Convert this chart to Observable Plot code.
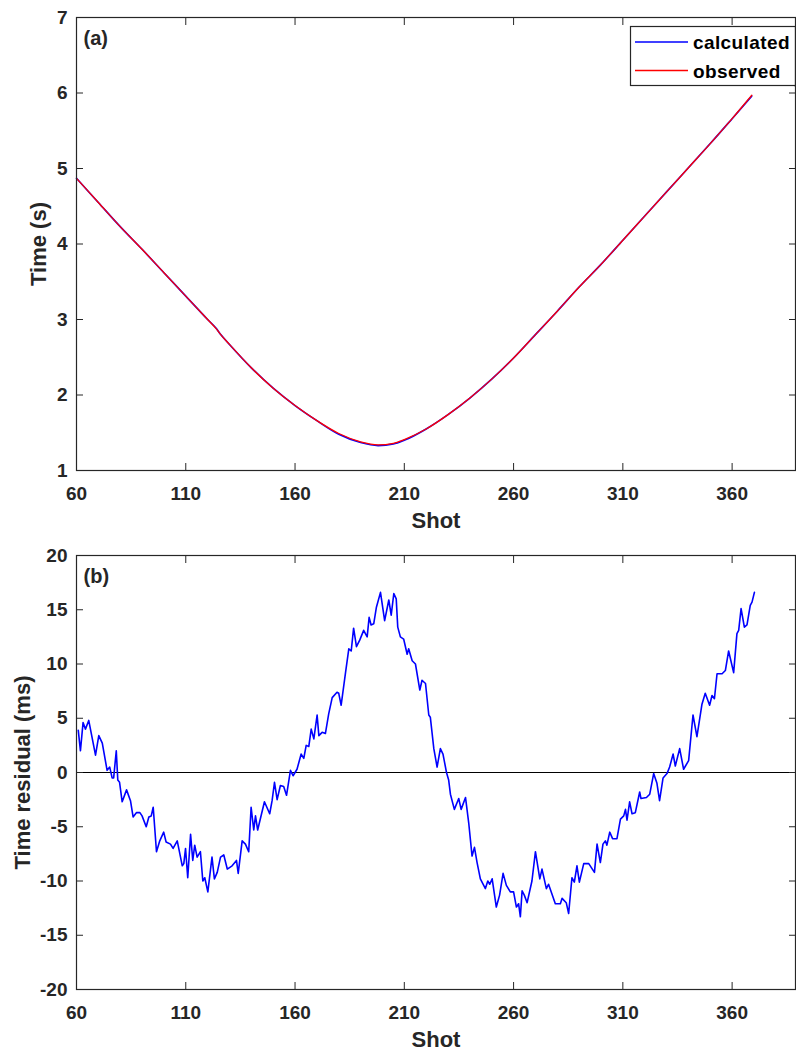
<!DOCTYPE html>
<html><head><meta charset="utf-8">
<script src="https://cdn.jsdelivr.net/npm/d3@7"></script>
<script src="https://cdn.jsdelivr.net/npm/@observablehq/plot@0.6"></script>
<style>
html,body{margin:0;padding:0;background:#fff;}
#wrap{position:relative;width:796px;height:1052px;overflow:hidden;background:#fff;}
#wrap svg{display:block;}
#legend{position:absolute;left:0;top:0;}
</style></head><body><div id="wrap"></div>
<script>
// ---- data ----
const shotTicks = [60, 110, 160, 210, 260, 310, 360];
const timeTicks = [1, 2, 3, 4, 5, 6, 7];
const residualTicks = [-20, -15, -10, -5, 0, 5, 10, 15, 20];

const timeShots = [60, 70, 80, 90, 100, 110, 120, 124, 126, 130, 140, 150, 160, 170, 180, 190, 198, 205, 210, 220, 230, 240, 250, 260, 270, 280, 290, 300, 310, 320, 330, 340, 350, 360, 369];
const observedTime = [4.87, 4.55, 4.23, 3.93, 3.62, 3.31, 3.00, 2.875, 2.80, 2.67, 2.36, 2.09, 1.86, 1.66, 1.49, 1.38, 1.34, 1.36, 1.41, 1.55, 1.74, 1.96, 2.21, 2.49, 2.80, 3.11, 3.43, 3.73, 4.05, 4.37, 4.69, 5.01, 5.33, 5.66, 5.97];
const calculatedTime = [4.87, 4.55, 4.23, 3.93, 3.62, 3.31, 3.00, 2.88, 2.80, 2.67, 2.36, 2.09, 1.86, 1.66, 1.48, 1.37, 1.33, 1.35, 1.40, 1.55, 1.74, 1.96, 2.21, 2.49, 2.80, 3.11, 3.43, 3.73, 4.05, 4.37, 4.69, 5.01, 5.33, 5.66, 5.96];

const residualShots = [60.8, 61.8, 63.0, 64.1, 65.6, 68.7, 70.2, 71.8, 74.0, 75.2, 76.3, 77.0, 78.2, 78.9, 79.7, 80.9, 82.9, 84.7, 85.9, 87.4, 89.0, 90.0, 91.9, 93.1, 94.2, 95.1, 96.6, 98.1, 99.9, 101.0, 103.0, 104.2, 106.1, 108.4, 109.1, 109.9, 110.9, 112.2, 113.2, 114.1, 115.2, 116.7, 117.8, 118.7, 120.1, 122.0, 123.1, 124.4, 125.9, 127.4, 129.0, 131.2, 133.2, 134.0, 135.8, 137.3, 138.8, 139.9, 141.1, 141.9, 142.9, 146.0, 148.4, 149.5, 150.6, 151.8, 153.3, 154.8, 156.1, 157.9, 159.1, 160.9, 162.8, 164.0, 165.1, 166.3, 167.4, 168.6, 170.1, 170.9, 172.4, 173.9, 175.4, 177.0, 179.2, 180.0, 181.1, 183.1, 184.6, 185.7, 186.8, 188.1, 189.6, 191.4, 193.0, 193.9, 194.8, 196.0, 197.2, 199.1, 201.0, 202.9, 204.0, 205.2, 206.3, 207.0, 208.2, 209.7, 211.3, 212.0, 213.6, 215.1, 217.1, 218.1, 219.7, 221.2, 221.9, 223.5, 225.0, 226.5, 227.7, 229.3, 230.3, 231.1, 232.9, 234.9, 236.0, 238.0, 239.5, 241.0, 242.1, 243.3, 244.8, 247.1, 248.2, 249.1, 250.2, 252.1, 253.6, 255.2, 256.7, 258.5, 260.0, 261.3, 262.3, 263.1, 263.9, 264.9, 266.2, 268.4, 270.0, 272.0, 273.0, 275.0, 276.0, 279.1, 281.4, 282.2, 284.1, 285.2, 286.7, 287.8, 289.0, 290.1, 292.1, 294.4, 297.0, 298.2, 299.7, 300.9, 302.0, 302.7, 304.0, 305.3, 307.3, 308.9, 310.4, 311.2, 311.9, 313.1, 314.2, 315.7, 317.7, 318.3, 320.8, 322.3, 324.1, 325.6, 326.8, 328.4, 330.2, 331.4, 333.0, 334.0, 336.0, 337.8, 340.1, 342.1, 343.9, 346.2, 347.7, 349.7, 350.8, 351.9, 353.1, 355.4, 356.9, 358.4, 360.7, 362.2, 363.0, 364.1, 365.6, 366.8, 368.3, 369.1, 370.2];
const residualMs = [3.9, 2.0, 4.6, 4.0, 4.8, 1.6, 3.4, 2.7, 0.2, 0.5, -0.5, -0.5, 2.0, -0.7, -0.9, -2.7, -1.6, -2.6, -4.1, -3.7, -3.7, -4.0, -5.0, -4.1, -4.0, -3.2, -7.3, -6.3, -5.5, -6.4, -6.6, -7.0, -6.3, -8.6, -8.4, -7.0, -9.7, -5.7, -8.1, -6.7, -7.8, -7.3, -10.0, -9.7, -11.0, -7.8, -9.8, -9.2, -7.8, -7.6, -8.9, -8.6, -8.1, -9.3, -6.3, -6.6, -7.3, -3.2, -5.3, -4.0, -5.3, -2.7, -3.8, -2.6, -0.9, -2.5, -1.2, -1.3, -2.1, 0.2, -0.3, 0.3, 1.7, 1.3, 2.5, 2.4, 4.0, 3.1, 5.3, 3.4, 3.7, 3.6, 5.4, 6.9, 7.4, 7.3, 6.2, 9.2, 11.4, 11.2, 13.3, 11.6, 12.2, 13.1, 12.5, 14.3, 13.6, 13.7, 15.2, 16.6, 14.0, 15.9, 14.5, 16.5, 16.0, 13.4, 12.5, 12.3, 10.9, 11.4, 10.3, 10.0, 7.6, 8.5, 8.2, 5.3, 5.1, 2.2, 0.5, 2.2, 1.7, 0.0, -0.7, -2.0, -3.4, -2.4, -3.4, -2.3, -4.7, -7.7, -6.9, -8.3, -9.8, -10.7, -10.0, -10.3, -9.8, -12.4, -11.3, -9.3, -10.4, -11.0, -11.0, -12.4, -12.1, -13.3, -10.9, -11.3, -12.0, -10.0, -7.3, -9.8, -8.9, -10.7, -10.3, -12.1, -12.1, -11.6, -12.0, -13.0, -9.7, -10.1, -8.6, -10.1, -8.4, -8.4, -9.2, -6.6, -8.3, -6.6, -6.3, -6.7, -5.5, -6.1, -6.1, -4.3, -4.0, -3.4, -4.4, -2.7, -3.8, -3.7, -1.8, -2.4, -2.3, -2.0, -0.1, -1.0, -2.6, -0.5, -0.1, 0.5, 1.7, 0.6, 2.2, 0.3, 1.1, 5.3, 3.3, 6.3, 7.3, 6.2, 7.1, 6.8, 9.1, 9.1, 9.4, 11.2, 9.2, 12.8, 13.1, 15.1, 13.4, 13.6, 15.4, 15.7, 16.6];

const seriesNames = ["calculated", "observed"];
const seriesColors = ["#0000ff", "#ff0000"];

// ---- drawing ----
const ink = "#262626";
const font = '"Liberation Sans", Arial, Helvetica, sans-serif';
const tickFont = 19;
const plain = d => String(d);
const blank = () => "";

const topRows = timeShots.map((s, i) => ({shot: s, observed: observedTime[i], calculated: calculatedTime[i]}));
const resRows = residualShots.map((s, i) => ({shot: s, res: residualMs[i]}));

function frameMarks(yTicks, yLabel, yLabelDx, panelTag) {
  return [
    // tick labels
    Plot.axisX(shotTicks, {anchor: "bottom", tickSize: 0, tickPadding: 16, tickFormat: plain, fontSize: tickFont, fontWeight: "bold", color: ink, label: null}),
    Plot.axisY(yTicks, {anchor: "left", tickSize: 0, tickPadding: 9, tickFormat: plain, fontSize: tickFont, fontWeight: "bold", color: ink, label: null}),
    // inward tick marks on all four sides
    Plot.axisX(shotTicks, {anchor: "bottom", tickSize: 7, dy: -7, tickFormat: blank, color: ink, label: null}),
    Plot.axisX(shotTicks, {anchor: "top", tickSize: 7, dy: 7, tickFormat: blank, color: ink, label: null}),
    Plot.axisY(yTicks, {anchor: "left", tickSize: 7, dx: 7, tickFormat: blank, color: ink, label: null}),
    Plot.axisY(yTicks, {anchor: "right", tickSize: 7, dx: -7, tickFormat: blank, color: ink, label: null}),
    Plot.frame({stroke: ink, strokeWidth: 1.2}),
    Plot.text(["Shot"], {frameAnchor: "bottom", dy: 50, lineAnchor: "middle", textAnchor: "middle", fontSize: 22, fontWeight: "bold", fill: ink}),
    Plot.text([yLabel], {frameAnchor: "left", dx: yLabelDx, rotate: -90, lineAnchor: "middle", textAnchor: "middle", fontSize: 22, fontWeight: "bold", fill: ink}),
    Plot.text([panelTag], {frameAnchor: "top-left", dx: 7, dy: 21, lineAnchor: "middle", textAnchor: "start", fontSize: 20, fontWeight: "bold", fill: ink})
  ];
}

const topChart = Plot.plot({
  width: 796, height: 540,
  marginLeft: 76, marginRight: 1, marginTop: 17, marginBottom: 70,
  style: {fontFamily: font, background: "white", color: ink, overflow: "visible"},
  x: {domain: [60, 389], label: null},
  y: {domain: [1, 7], label: null},
  marks: [
    Plot.line(topRows, {x: "shot", y: "calculated", stroke: seriesColors[0], strokeWidth: 1.6, curve: "monotone-x"}),
    Plot.line(topRows, {x: "shot", y: "observed", stroke: seriesColors[1], strokeWidth: 1.3, curve: "monotone-x"}),
    ...frameMarks(timeTicks, "Time (s)", -38, "(a)")
  ]
});

const bottomChart = Plot.plot({
  width: 796, height: 512,
  marginLeft: 76, marginRight: 1, marginTop: 15, marginBottom: 63,
  style: {fontFamily: font, background: "white", color: ink, overflow: "visible"},
  x: {domain: [60, 389], label: null},
  y: {domain: [-20, 20], label: null},
  marks: [
    Plot.ruleY([0], {stroke: "#000", strokeWidth: 1.2}),
    Plot.line(resRows, {x: "shot", y: "res", stroke: seriesColors[0], strokeWidth: 1.6}),
    ...frameMarks(residualTicks, "Time residual (ms)", -54, "(b)")
  ]
});

const wrap = document.getElementById("wrap");
wrap.appendChild(topChart);
wrap.appendChild(bottomChart);

// legend (inside panel a, top-right)
const ns = "http://www.w3.org/2000/svg";
const leg = document.createElementNS(ns, "svg");
leg.setAttribute("id", "legend");
leg.setAttribute("width", 796);
leg.setAttribute("height", 100);
leg.style.fontFamily = font;
const box = document.createElementNS(ns, "rect");
box.setAttribute("x", 630.5); box.setAttribute("y", 26.5);
box.setAttribute("width", 170); box.setAttribute("height", 59);
box.setAttribute("fill", "white"); box.setAttribute("stroke", ink); box.setAttribute("stroke-width", 1.2);
leg.appendChild(box);
seriesNames.forEach((name, i) => {
  const y = 42 + i * 28.5;
  const ln = document.createElementNS(ns, "line");
  ln.setAttribute("x1", 635); ln.setAttribute("x2", 688);
  ln.setAttribute("y1", y); ln.setAttribute("y2", y);
  ln.setAttribute("stroke", seriesColors[i]); ln.setAttribute("stroke-width", 1.4);
  leg.appendChild(ln);
  const tx = document.createElementNS(ns, "text");
  tx.setAttribute("x", 693); tx.setAttribute("y", y + 7);
  tx.setAttribute("font-size", 19); tx.setAttribute("font-weight", "bold");
  tx.setAttribute("fill", "#000");
  tx.setAttribute("letter-spacing", "0.4");
  tx.textContent = name;
  leg.appendChild(tx);
});
const edge = document.createElementNS(ns, "line");
edge.setAttribute("x1", 795.4); edge.setAttribute("x2", 795.4);
edge.setAttribute("y1", 26); edge.setAttribute("y2", 87);
edge.setAttribute("stroke", ink); edge.setAttribute("stroke-width", 1.2);
leg.appendChild(edge);
wrap.appendChild(leg);
</script>
</body></html>
